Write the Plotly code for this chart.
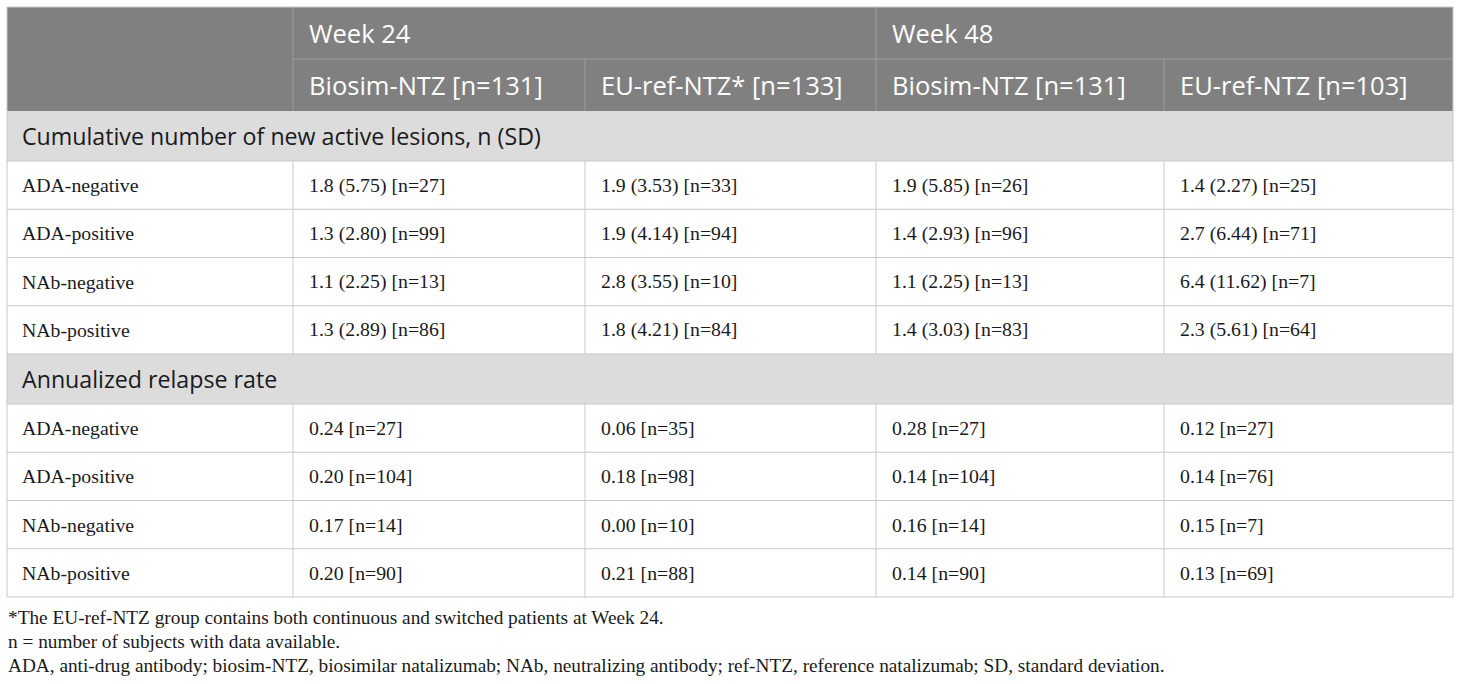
import plotly.graph_objects as go

# header text
groups = ["Week 24", "Week 48"]
arms = ["Biosim-NTZ [n=131]", "EU-ref-NTZ* [n=133]", "Biosim-NTZ [n=131]", "EU-ref-NTZ [n=103]"]

sections = ["Cumulative number of new active lesions, n (SD)", "Annualized relapse rate"]
row_labels = ["ADA-negative", "ADA-positive", "NAb-negative", "NAb-positive"]

lesions_w24_biosim = ["1.8 (5.75) [n=27]", "1.3 (2.80) [n=99]", "1.1 (2.25) [n=13]", "1.3 (2.89) [n=86]"]
lesions_w24_euref = ["1.9 (3.53) [n=33]", "1.9 (4.14) [n=94]", "2.8 (3.55) [n=10]", "1.8 (4.21) [n=84]"]
lesions_w48_biosim = ["1.9 (5.85) [n=26]", "1.4 (2.93) [n=96]", "1.1 (2.25) [n=13]", "1.4 (3.03) [n=83]"]
lesions_w48_euref = ["1.4 (2.27) [n=25]", "2.7 (6.44) [n=71]", "6.4 (11.62) [n=7]", "2.3 (5.61) [n=64]"]

arr_w24_biosim = ["0.24 [n=27]", "0.20 [n=104]", "0.17 [n=14]", "0.20 [n=90]"]
arr_w24_euref = ["0.06 [n=35]", "0.18 [n=98]", "0.00 [n=10]", "0.21 [n=88]"]
arr_w48_biosim = ["0.28 [n=27]", "0.14 [n=104]", "0.16 [n=14]", "0.14 [n=90]"]
arr_w48_euref = ["0.12 [n=27]", "0.14 [n=76]", "0.15 [n=7]", "0.13 [n=69]"]

footnotes = [
    "*The EU-ref-NTZ group contains both continuous and switched patients at Week 24.",
    "n = number of subjects with data available.",
    "ADA, anti-drug antibody; biosim-NTZ, biosimilar natalizumab; NAb, neutralizing antibody; "
    "ref-NTZ, reference natalizumab; SD, standard deviation.",
]

section_values = [
    [lesions_w24_biosim, lesions_w24_euref, lesions_w48_biosim, lesions_w48_euref],
    [arr_w24_biosim, arr_w24_euref, arr_w48_biosim, arr_w48_euref],
]

# grid geometry (pixels)
W, H = 1460, 684
col_x = [7, 293, 585, 876, 1164, 1453]
top = 7
head_h = 52
sec_h = 50
row_h = 48.25
pad = 14
pad0 = 13

HEAD_BG = "#808080"
HEAD_LINE = "#9c9c9c"
SEC_BG = "#dcdcdc"
GRID = "#c8c8c8"
SANS = "Open Sans"
SERIF = "Liberation Serif"

shapes = []
annotations = []


def rect(x0, y0, x1, y1, fill):
    shapes.append(dict(type="rect", xref="x", yref="y", x0=x0, x1=x1, y0=y0, y1=y1,
                       fillcolor=fill, line=dict(width=0), layer="below"))


def hline(x0, x1, y, color):
    shapes.append(dict(type="line", xref="x", yref="y", x0=x0, x1=x1, y0=y, y1=y,
                       line=dict(width=1, color=color)))


def vline(x, y0, y1, color):
    shapes.append(dict(type="line", xref="x", yref="y", x0=x, x1=x, y0=y0, y1=y1,
                       line=dict(width=1, color=color)))


def text(x, y, s, font, size, color="#1a1a1a"):
    annotations.append(dict(x=x, y=y, xref="x", yref="y", text=s, showarrow=False,
                            xanchor="left", yanchor="middle",
                            font=dict(family=font, size=size, color=color)))


# header block
y_mid = top + head_h
y_head_end = top + 2 * head_h
rect(col_x[0], top, col_x[-1], y_head_end, HEAD_BG)
hline(col_x[1], col_x[-1], y_mid, HEAD_LINE)
vline(col_x[1], top, y_head_end, HEAD_LINE)
vline(col_x[3], top, y_head_end, HEAD_LINE)
vline(col_x[2], y_mid, y_head_end, HEAD_LINE)
vline(col_x[4], y_mid, y_head_end, HEAD_LINE)
for g, name in enumerate(groups):
    text(col_x[1 + 2 * g] + pad, top + head_h / 2, name, SANS, 25.5, "white")
for i, name in enumerate(arms):
    text(col_x[1 + i] + pad, y_mid + head_h / 2, name, SANS, 25.5, "white")

# body sections
y = y_head_end
for s, title in enumerate(sections):
    rect(col_x[0], y, col_x[-1], y + sec_h, SEC_BG)
    text(col_x[0] + pad0, y + sec_h / 2, title, SANS, 23.2)
    hline(col_x[0], col_x[-1], y + sec_h, GRID)
    y += sec_h
    for r, label in enumerate(row_labels):
        yc = y + row_h / 2
        text(col_x[0] + pad0, yc, label, SERIF, 19.8)
        for c, vals in enumerate(section_values[s]):
            text(col_x[1 + c] + pad, yc, vals[r], SERIF, 19.8)
        for cx in col_x[1:-1]:
            vline(cx, y, y + row_h, GRID)
        y += row_h
        hline(col_x[0], col_x[-1], y, GRID)

# outer border
vline(col_x[0], top, y, GRID)
vline(col_x[-1], top, y, GRID)
hline(col_x[0], col_x[-1], top, GRID)

for k, note in enumerate(footnotes):
    text(col_x[0] - 1, y + 20 + 24 * k, note, SERIF, 19.3)

fig = go.Figure()
fig.update_layout(
    width=W, height=H,
    margin=dict(l=0, r=0, t=0, b=0),
    paper_bgcolor="white", plot_bgcolor="white",
    xaxis=dict(range=[0, W], visible=False, fixedrange=True),
    yaxis=dict(range=[H, 0], visible=False, fixedrange=True),
    shapes=shapes, annotations=annotations, showlegend=False,
)
fig.write_html("out.html", config=dict(displayModeBar=False),
               post_script="document.body.style.margin='0';document.body.style.overflow='hidden';")
